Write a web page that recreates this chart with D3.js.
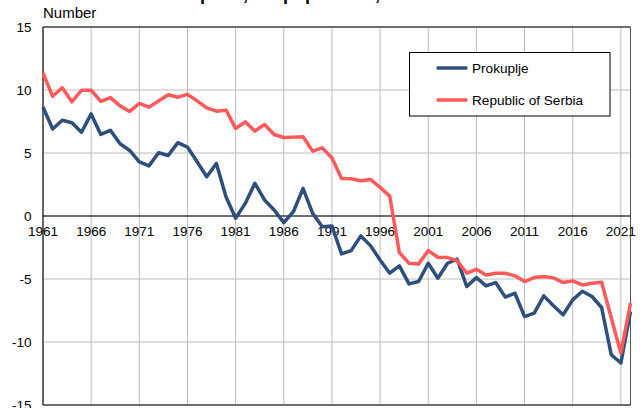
<!DOCTYPE html>
<html>
<head>
<meta charset="utf-8">
<script src="https://cdn.jsdelivr.net/npm/d3@7"></script>
<style>
  body { margin: 0; background: #fff; }
  svg { display: block; font-family: Arial, "Liberation Sans", sans-serif; }
</style>
</head>
<body>
<div id="chart"></div>
<script>
// années 1961 - 2022
var years = d3.range(1961, 2023);
var yTicks = [15, 10, 5, 0, -5, -10, -15];
var xTicks = [1961, 1966, 1971, 1976, 1981, 1986, 1991, 1996, 2001, 2006, 2011, 2016, 2021];

// Prokuplje
var prokuplje = [
    8.65, 6.9, 7.6, 7.4, 6.65, 8.1, 6.47, 6.8, 5.73, 5.2,
    4.3, 3.98, 5.02, 4.8, 5.82, 5.47, 4.3, 3.12, 4.17, 1.53,
    -0.18, 1.0, 2.59, 1.27, 0.48, -0.53, 0.34, 2.19, 0.21, -0.85,
    -0.79, -3.01, -2.75, -1.58, -2.35, -3.49, -4.54, -3.96, -5.39, -5.2,
    -3.75, -4.94, -3.75, -3.43, -5.6, -4.89, -5.55, -5.28, -6.44, -6.13,
    -7.98, -7.71, -6.34, -7.13, -7.84, -6.66, -5.97, -6.39, -7.26, -11.01,
    -11.67, -7.58
];

// Republic of Serbia
var serbia = [
    11.35, 9.5, 10.18, 9.06, 9.98, 9.98, 9.1, 9.4, 8.74, 8.3,
    8.93, 8.64, 9.12, 9.62, 9.43, 9.65, 9.14, 8.58, 8.32, 8.4,
    6.95, 7.47, 6.74, 7.26, 6.47, 6.23, 6.26, 6.29, 5.15, 5.41,
    4.6, 2.98, 2.96, 2.8, 2.9, 2.27, 1.58, -2.9, -3.75, -3.8,
    -2.75, -3.27, -3.3, -3.54, -4.54, -4.23, -4.68, -4.54, -4.54, -4.75,
    -5.2, -4.89, -4.81, -4.91, -5.28, -5.15, -5.47, -5.33, -5.26, -8.07,
    -10.88, -6.92
];

var seriesNames = ["Prokuplje", "Republic of Serbia"];
var colors = ["#2e4e7e", "#ff5a5a"];

var width = 644, height = 408;
var plotLeft = 43, plotRight = 630.5, plotTop = 27, plotBottom = 405;

var svg = d3.select("#chart").append("svg")
    .attr("width", width)
    .attr("height", height);

var x = d3.scaleLinear().domain([1961, 2022]).range([plotLeft, plotRight]);
var y = d3.scaleLinear().domain([-15, 15]).range([plotBottom, plotTop]);

// titre (coupé en haut)
var title = svg.append("text")
    .attr("y", 0)
    .style("font-weight", "bold")
    .style("font-size", "18px");
title.append("tspan").attr("class", "pre").text("Natural increase ");
title.append("tspan").text("per 1,000 population, 1961–2022");
var preW = title.select(".pre").node().getComputedTextLength();
title.attr("x", 200 - preW);

svg.append("text")
    .attr("x", 43)
    .attr("y", 18)
    .style("font-size", "15px")
    .text("Number");

// grille
svg.append("g")
    .selectAll("line")
    .data(yTicks)
    .enter().append("line")
    .attr("x1", plotLeft).attr("x2", plotRight)
    .attr("y1", function (d) { return y(d); })
    .attr("y2", function (d) { return y(d); })
    .attr("stroke", "#bdbdbd")
    .attr("stroke-width", 1);

svg.append("g")
    .selectAll("line")
    .data(xTicks.slice(1))
    .enter().append("line")
    .attr("x1", function (d) { return x(d); })
    .attr("x2", function (d) { return x(d); })
    .attr("y1", plotTop).attr("y2", plotBottom)
    .attr("stroke", "#bdbdbd")
    .attr("stroke-width", 1);

// cadre
svg.append("line").attr("x1", plotLeft).attr("x2", plotRight).attr("y1", plotTop).attr("y2", plotTop)
    .attr("stroke", "#000").attr("stroke-width", 1);
svg.append("line").attr("x1", plotRight).attr("x2", plotRight).attr("y1", plotTop).attr("y2", plotBottom)
    .attr("stroke", "#555").attr("stroke-width", 1);
svg.append("line").attr("x1", plotLeft).attr("x2", plotLeft).attr("y1", plotTop).attr("y2", plotBottom)
    .attr("stroke", "#000").attr("stroke-width", 1.2);
svg.append("line").attr("x1", plotLeft).attr("x2", plotRight).attr("y1", y(0)).attr("y2", y(0))
    .attr("stroke", "#000").attr("stroke-width", 1);
svg.append("line").attr("x1", plotLeft).attr("x2", plotRight).attr("y1", plotBottom).attr("y2", plotBottom)
    .attr("stroke", "#000").attr("stroke-width", 1);

// étiquettes des axes
svg.append("g")
    .selectAll("text")
    .data(yTicks)
    .enter().append("text")
    .attr("x", 31.5)
    .attr("y", function (d) { return y(d); })
    .attr("dy", "0.35em")
    .attr("text-anchor", "end")
    .style("font-size", "13.5px")
    .text(function (d) { return d; });

svg.append("g")
    .selectAll("text")
    .data(xTicks)
    .enter().append("text")
    .attr("x", function (d) { return x(d); })
    .attr("y", y(0) + 20)
    .attr("text-anchor", "middle")
    .style("font-size", "13.5px")
    .text(function (d) { return d; });

// lignes
var line = d3.line()
    .x(function (d, i) { return x(years[i]); })
    .y(function (d) { return y(d); });

[prokuplje, serbia].forEach(function (s, i) {
    svg.append("path")
        .datum(s)
        .attr("d", line)
        .attr("fill", "none")
        .attr("stroke", colors[i])
        .attr("stroke-width", 3.5)
        .attr("stroke-linejoin", "round");
});

// légende
var lg = svg.append("g");
lg.append("rect")
    .attr("x", 409.5).attr("y", 52.5)
    .attr("width", 200.5).attr("height", 63.5)
    .attr("fill", "#fff")
    .attr("stroke", "#000")
    .attr("stroke-width", 1);

var items = lg.selectAll(".legend")
    .data(seriesNames)
    .enter().append("g")
    .attr("class", "legend")
    .attr("transform", function (d, i) { return "translate(0," + (68 + i * 32) + ")"; });

items.append("line")
    .attr("x1", 438).attr("x2", 466)
    .attr("stroke", function (d, i) { return colors[i]; })
    .attr("stroke-width", 3.5)
    .attr("stroke-linecap", "round");

items.append("text")
    .attr("x", 472)
    .attr("dy", "0.35em")
    .style("font-size", "13.6px")
    .text(function (d) { return d; });
</script>
</body>
</html>
